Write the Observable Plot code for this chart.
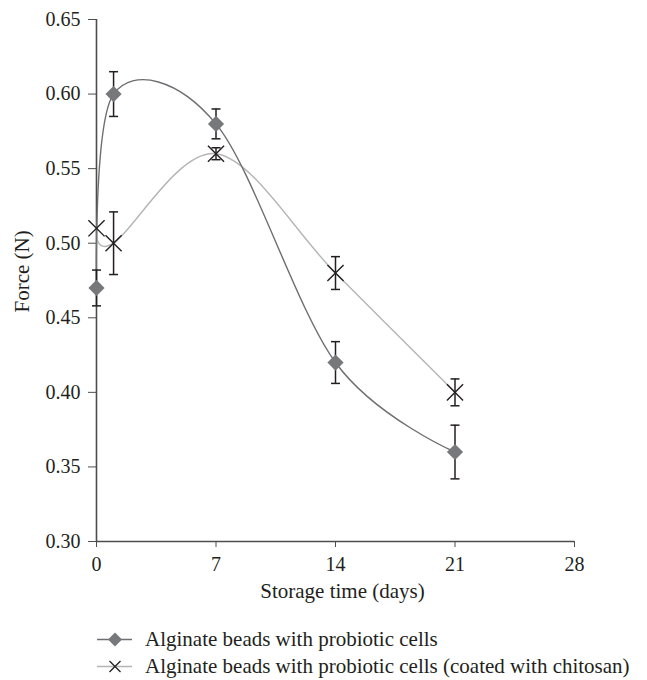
<!DOCTYPE html>
<html>
<head>
<meta charset="utf-8">
<script src="https://cdn.jsdelivr.net/npm/d3@7"></script>
<script src="https://cdn.jsdelivr.net/npm/@observablehq/plot@0.6"></script>
<style>
  html, body { margin: 0; padding: 0; background: #fff; }
  #wrap { position: relative; width: 647px; height: 680px; font-family: "Liberation Serif", "Times New Roman", serif; color: #231f20; }
  .row { position: absolute; left: 0; height: 27px; display: flex; align-items: center; font-size: 21px; white-space: nowrap; }
  .row svg { margin-left: 96px; width: 40px; height: 27px; flex: none; }
  .row span { margin-left: 9px; }
</style>
</head>
<body>
<div id="wrap"></div>
<script>
// ---- data ----
const days = [0, 1, 7, 14, 21];
const alginate = [0.47, 0.60, 0.58, 0.42, 0.36];
const alginateErr = [0.012, 0.015, 0.010, 0.014, 0.018];
const chitosan = [0.51, 0.50, 0.56, 0.48, 0.40];
const chitosanErr = [0.000, 0.021, 0.004, 0.011, 0.009];
const seriesNames = ["Alginate beads with probiotic cells", "Alginate beads with probiotic cells (coated with chitosan)"];
const xTicks = [0, 7, 14, 21, 28];
const yTicks = [0.30, 0.35, 0.40, 0.45, 0.50, 0.55, 0.60, 0.65];
const xLabel = "Storage time (days)";
const yLabel = "Force (N)";

const s1 = days.map((d, i) => ({day: d, v: alginate[i], lo: alginate[i] - alginateErr[i], hi: alginate[i] + alginateErr[i]}));
const s2 = days.map((d, i) => ({day: d, v: chitosan[i], lo: chitosan[i] - chitosanErr[i], hi: chitosan[i] + chitosanErr[i]}));
const bars = [...s1, ...s2].filter(d => d.hi - d.lo > 0);

const cap = {draw(ctx) { ctx.moveTo(-4.5, 0); ctx.lineTo(4.5, 0); }};
const smooth = d3.curveCardinal.tension(0);
const ink = "#231f20";
const axisInk = "#4d4d4f";

const plot = Plot.plot({
  width: 647,
  height: 620,
  marginLeft: 96,
  marginRight: 73,
  marginTop: 19,
  marginBottom: 79,
  style: {fontFamily: "'Liberation Serif', 'Times New Roman', serif", fontSize: "20px", color: ink, background: "#fff"},
  x: {domain: [0, 28]},
  y: {domain: [0.30, 0.65]},
  marks: [
    Plot.axisX({ticks: xTicks, tickSize: 6, tickPadding: 9, stroke: axisInk, label: null, tickFormat: d3.format("d")}),
    Plot.axisY({ticks: yTicks, tickSize: 8, tickPadding: 8, stroke: axisInk, label: null, tickFormat: d3.format(".2f")}),
    Plot.ruleY([0.30], {stroke: axisInk, strokeWidth: 1.3}),
    Plot.ruleX([0], {stroke: axisInk, strokeWidth: 1.6}),
    Plot.line(s2, {x: "day", y: "v", curve: smooth, stroke: "#b5b5b5", strokeWidth: 1.4}),
    Plot.line(s1, {x: "day", y: "v", curve: smooth, stroke: "#6d6e71", strokeWidth: 1.4}),
    Plot.ruleX(bars, {x: "day", y1: "lo", y2: "hi", stroke: ink, strokeWidth: 1.5}),
    Plot.dot(bars, {x: "day", y: "lo", symbol: cap, r: 5, fill: "none", stroke: ink, strokeWidth: 1.5}),
    Plot.dot(bars, {x: "day", y: "hi", symbol: cap, r: 5, fill: "none", stroke: ink, strokeWidth: 1.5}),
    Plot.dot(s1, {x: "day", y: "v", symbol: "diamond2", r: 7.3, fill: "#77787b", stroke: "none"}),
    Plot.dot(s2, {x: "day", y: "v", symbol: "times", r: 7.4, fill: "none", stroke: ink, strokeWidth: 1.4}),
    Plot.text([xLabel], {frameAnchor: "bottom", dx: 7, dy: 56, fontSize: 21, fill: ink}),
    Plot.text([yLabel], {frameAnchor: "left", rotate: -90, dx: -74, dy: 32, fontSize: 21, fill: ink})
  ]
});

const wrap = document.getElementById("wrap");
wrap.appendChild(plot);

// legend
const legendRows = [
  {name: seriesNames[0], top: 626, line: "#6d6e71", marker: '<path d="M19,6.5 L26,13.5 L19,20.5 L12,13.5 Z" fill="#77787b"/>'},
  {name: seriesNames[1], top: 653, line: "#b5b5b5", marker: '<path d="M13.5,8 L24.5,19 M13.5,19 L24.5,8" stroke="#231f20" stroke-width="1.3" fill="none"/>'}
];
legendRows.forEach(r => {
  const div = document.createElement("div");
  div.className = "row";
  div.style.top = r.top + "px";
  div.innerHTML = `<svg viewBox="0 0 40 27"><line x1="1" x2="36" y1="13.5" y2="13.5" stroke="${r.line}" stroke-width="1.4"/>${r.marker}</svg><span></span>`;
  div.querySelector("span").textContent = r.name;
  wrap.appendChild(div);
});
</script>
</body>
</html>
